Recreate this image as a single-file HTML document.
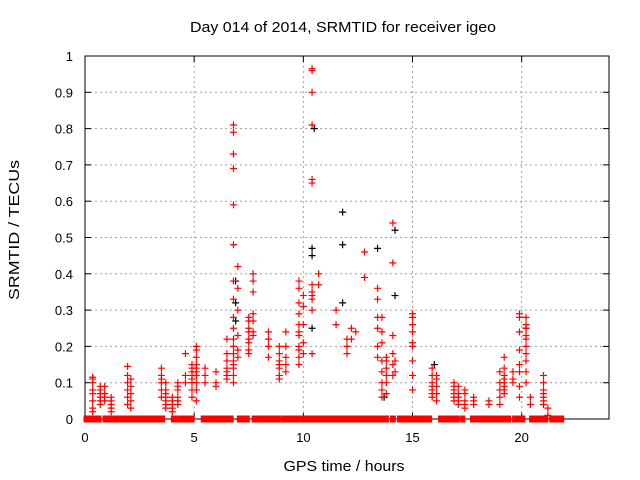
<!DOCTYPE html>
<html><head><meta charset="utf-8"><style>
body{margin:0;background:#fff}
svg{display:block;font-family:"Liberation Sans",sans-serif}
</style></head><body>
<svg id="c" width="640" height="480"></svg>
<script>
const xTicks=[0,5,10,15,20];
const yTicks=[0,0.1,0.2,0.3,0.4,0.5,0.6,0.7,0.8,0.9,1];
const yTickLabels=["0","0.1","0.2","0.3","0.4","0.5","0.6","0.7","0.8","0.9","1"];
const zeroRuns=[[0,0.37],[0.46,0.69],[0.87,1.19],[1.33,1.93],[2.06,2.15],[2.2,3.44],[3.5,3.6],[4.0,4.17],[4.31,4.68],[4.72,4.95],[5.37,5.55],[5.6,5.96],[6.0,6.47],[6.51,6.74],[7.02,7.48],[7.7,8.26],[8.3,8.94],[9.08,9.77],[9.9,10.46],[10.5,11.97],[12.0,13.6],[13.67,13.85],[14.04,14.17],[14.36,15.14],[15.23,15.41],[15.46,15.83],[16.24,16.88],[16.95,17.0],[17.05,17.1],[17.25,17.35],[17.7,18.44],[18.53,19.13],[19.22,19.45],[19.63,20.1],[20.41,21.15],[21.33,21.88]];
const clusterTimes=[0.35,0.7,0.9,1.2,1.95,2.1,3.5,3.7,4.0,4.25,4.6,4.9,5.1,5.5,6.0,6.5,6.8,7.0,7.5,7.7,8.4,8.9,9.2,9.8,10.0,10.4,10.7,11.5,12.0,12.2,12.4,12.8,13.4,13.6,13.8,14.1,14.2,15.0,15.9,16.1,16.9,17.1,17.4,17.8,18.5,19.0,19.2,19.6,19.9,20.2,20.4,21.0,21.2];
const clusterValues=[
[.115,.11,.10,.08,.07,.05,.03,.02],[.09,.08,.07,.06,.05,.04],[.07,.06,.05,.09],[.06,.05,.04,.03,.02],
[.145,.12,.10,.08,.06,.04],[.11,.09,.07,.05,.03],[.14,.12,.11,.10,.08,.06],[.10,.08,.07,.06,.05,.04,.03],
[.06,.05,.04,.03,.02],[.10,.09,.08,.06,.05,.04],[.18,.12,.10],[.15,.14,.13,.12,.11,.10,.08,.06],
[.20,.19,.17,.15,.14,.13,.12,.10,.08,.05],[.14,.12,.10],[.13,.10,.09],[.22,.18,.16,.14,.13,.12,.11],
[.81,.79,.73,.69,.59,.48,.38,.33,.28,.25,.22,.20,.18,.16,.15,.14,.12,.10],[.42,.36,.30,.23,.19,.17],
[.28,.27,.25,.24,.22,.21,.19,.18],[.40,.38,.35,.29,.27,.24,.23],[.24,.22,.20,.17],[.20,.18,.16,.15,.14,.12,.11],
[.24,.20,.17,.15,.13],[.38,.36,.32,.29,.26,.24,.23,.20,.19,.17,.15],[.34,.31,.26,.21,.18],
[.965,.96,.90,.81,.66,.65,.37,.35,.34,.33,.30,.18],[.40,.37],[.30,.26],[.22,.20,.18],[.25,.22],[.24],[.46,.39],
[.36,.33,.28,.25,.20,.17],[.28,.24,.21,.16,.13,.10,.08,.06],[.17,.16,.14,.12,.10,.07],[.54,.43,.23,.18,.15,.12],[.16,.13],
[.29,.28,.26,.24,.21,.20,.16,.12,.08],[.14,.12,.10,.09,.08,.07,.06],[.12,.11,.09,.07,.05],[.10,.09,.08,.07,.06,.05],
[.09,.07,.06,.05,.04],[.08,.07,.05,.04,.03],[.06,.05,.04],[.05,.04],[.13,.10,.08,.06,.04],[.17,.14,.12,.11,.10,.09,.08,.07],
[.13,.11,.10],[.29,.28,.24,.19,.15,.13,.09,.06],[.28,.26,.25,.23,.22,.20,.18,.16,.13,.10],[.06,.04],[.12,.10,.08,.07,.06,.05,.04],[.03,.01]];
const blackTimes=[6.9,6.9,6.9,10.4,10.4,10.4,10.5,11.8,11.8,11.8,13.4,14.2,14.2,13.7,16.0,20.2];
const blackValues=[.38,.32,.27,.47,.45,.25,.80,.57,.48,.32,.47,.52,.34,.06,.15,.25];

const L=85,R=609,T=56,B=419;
const xs=t=>L+(t/24)*(R-L), ys=v=>B-v*(B-T);
const svg=document.getElementById('c');
const NS='http://www.w3.org/2000/svg';
function mk(tag,a,parent){const e=document.createElementNS(NS,tag);for(const k in a)e.setAttribute(k,a[k]);(parent||svg).appendChild(e);return e;}
yTicks.forEach((v,i)=>{
 if(v>0&&v<1){const g=mk('line',{x1:L,x2:R,y1:ys(v),y2:ys(v),stroke:'#a0a0a0','stroke-dasharray':'2,3'});
 
 }
 const t1=mk('line',{x1:L,x2:L+6,y1:ys(v),y2:ys(v),stroke:'#000'});
 
 
 mk('line',{x1:R,x2:R-6,y1:ys(v),y2:ys(v),stroke:'#000'});
 const tx=mk('text',{x:L-12,y:ys(v)+5,'text-anchor':'end','font-size':13});
 tx.textContent=yTickLabels[i];
 
 
});
xTicks.forEach(v=>{
 if(v>0){const g=mk('line',{x1:xs(v),x2:xs(v),y1:T,y2:B,stroke:'#a0a0a0','stroke-dasharray':'2,3'});
 
 }
 mk('line',{x1:xs(v),x2:xs(v),y1:B,y2:B-6,stroke:'#000'});
 mk('line',{x1:xs(v),x2:xs(v),y1:T,y2:T+6,stroke:'#000'});
 const tx=mk('text',{x:xs(v),y:B+23,'text-anchor':'middle','font-size':13});
 tx.textContent=String(v);
 
 
});
const frame=mk('rect',{x:L,y:T,width:R-L,height:B-T,fill:'none',stroke:'#000'});


function plus(x,y,col,name){
 const p=mk('path',{d:`M${x-3.5},${y}h7M${x},${y-3.5}v7`,stroke:col,'stroke-width':1.2,fill:'none'});
 
 
}
blackTimes.forEach((t,i)=>plus(xs(t),ys(blackValues[i]),'#000','black-point'));
zeroRuns.forEach(r=>{
 const z=mk('rect',{x:xs(r[0])-1.5,y:B-3.5,width:xs(r[1])-xs(r[0])+3,height:7,fill:'#f00'});
 
 
});
clusterTimes.forEach((t,i)=>clusterValues[i].forEach(v=>plus(xs(t),ys(v),'#f00','red-point')));
const ti=mk('text',{x:343,y:32,'text-anchor':'middle','font-size':15,textLength:306,lengthAdjust:'spacingAndGlyphs'});
ti.textContent='Day 014 of 2014, SRMTID for receiver igeo';


const xl=mk('text',{x:344,y:471,'text-anchor':'middle','font-size':15,textLength:121,lengthAdjust:'spacingAndGlyphs'});
xl.textContent='GPS time / hours';


const yl=mk('text',{x:0,y:0,'text-anchor':'middle','font-size':15,textLength:140,lengthAdjust:'spacingAndGlyphs',transform:'translate(19,230) rotate(-90)'});
yl.textContent='SRMTID / TECUs';


</script>
</body></html>
